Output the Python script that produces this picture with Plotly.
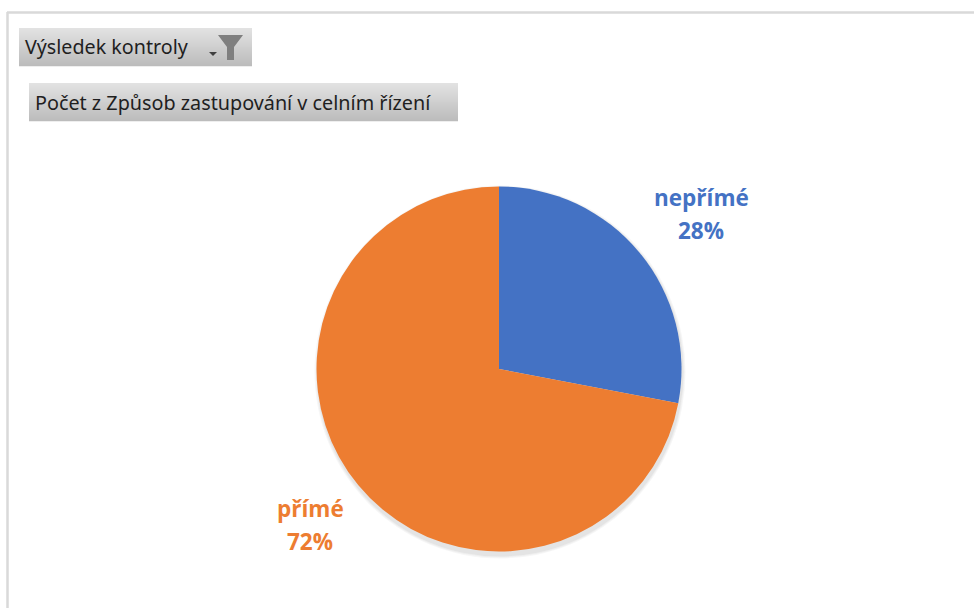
import plotly.graph_objects as go

W, H = 974, 608

# Data
labels = ["nepřímé", "přímé"]
values = [28, 72]
colors = ["#4472C4", "#ED7D31"]
filter_text = "Výsledek kontroly"
field_text = "Počet z Způsob zastupování v celním řízení"


def px(x):
    return x / W


def py(y):
    return 1 - y / H


def hex_mix(a, b, t):
    return "#%02x%02x%02x" % tuple(round(p + (q - p) * t) for p, q in zip(a, b))


shapes = []


def button(x0, y0, x1, y1, top=(226, 226, 226), bottom=(188, 188, 188)):
    n = y1 - y0
    for i in range(n):
        shapes.append(dict(type="rect", xref="paper", yref="paper",
                           x0=px(x0), x1=px(x1), y0=py(y0 + i), y1=py(y0 + i + 1.3),
                           fillcolor=hex_mix(top, bottom, i / max(n - 1, 1)),
                           line=dict(width=0), layer="below"))


button(19, 28, 252, 66)
button(29, 83, 458, 121)

# outer frame of the screenshot
shapes.append(dict(type="line", xref="paper", yref="paper", x0=px(7), x1=1,
                   y0=py(12.5), y1=py(12.5), line=dict(color="#d9d9d9", width=2.5)))
shapes.append(dict(type="line", xref="paper", yref="paper", x0=px(7.5), x1=px(7.5),
                   y0=py(12), y1=0, line=dict(color="#d9d9d9", width=2.5)))


def path(points):
    return "M " + " L ".join(f"{px(x)} {py(y)}" for x, y in points) + " Z"


# funnel icon and small dropdown arrow
shapes.append(dict(type="path", xref="paper", yref="paper",
                   path=path([(218, 35), (243, 35), (234, 47), (234, 60), (227, 60), (227, 47)]),
                   fillcolor="#7f7f7f", line=dict(width=0)))
shapes.append(dict(type="path", xref="paper", yref="paper",
                   path=path([(209, 52), (217, 52), (213, 56)]),
                   fillcolor="#404040", line=dict(width=0)))

# soft shadow round the pie, falling towards the lower right
for grow, shade in [(3.5, "#f7f7f7"), (2.5, "#efefef"), (1.5, "#e4e4e4")]:
    shapes.append(dict(type="circle", xref="paper", yref="paper",
                       x0=px(317 - grow + 1), x1=px(681 + grow + 1),
                       y0=py(553 + grow + 2), y1=py(187 - grow + 2),
                       fillcolor=shade, line=dict(width=0), layer="below"))

fig = go.Figure(go.Pie(
    labels=labels, values=values, sort=False, direction="clockwise", rotation=0,
    marker=dict(colors=colors, line=dict(width=0)),
    textinfo="none", hoverinfo="label+percent", showlegend=False,
    domain=dict(x=[px(316.5), px(681.5)], y=[py(551.5), py(186.5)]),
))

annotations = [
    dict(x=px(23), y=py(47), text=filter_text, xanchor="left", yanchor="middle",
         font=dict(size=19.7, color="#1f1f1f")),
    dict(x=px(33), y=py(102), text=field_text, xanchor="left", yanchor="middle",
         font=dict(size=19.8, color="#1f1f1f")),
]
for i, (cx, cy) in enumerate([(701, 198), (310, 508)]):
    annotations.append(dict(
        x=px(cx), y=py(cy), xanchor="center", yanchor="middle",
        text=f"<b>{labels[i]}</b>",
        font=dict(size=22.5, color=colors[i], family="Open Sans"),
    ))
    annotations.append(dict(
        x=px(cx), y=py(cy + 33), xanchor="center", yanchor="middle",
        text=f"<b>{values[i]}%</b>",
        font=dict(size=22.5, color=colors[i], family="Open Sans"),
    ))
for a in annotations:
    a.update(xref="paper", yref="paper", showarrow=False)

fig.update_layout(
    width=W, height=H, margin=dict(l=0, r=0, t=0, b=0),
    paper_bgcolor="rgba(0,0,0,0)", plot_bgcolor="rgba(0,0,0,0)",
    font=dict(family="Noto Sans"),
    shapes=shapes, annotations=annotations,
)
fig.write_html("out.html", config=dict(displayModeBar=False),
               post_script="document.body.style.margin='0';")
